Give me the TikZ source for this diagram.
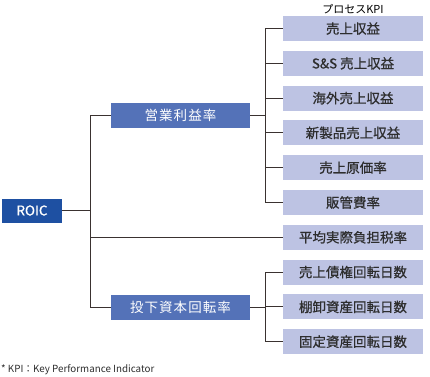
\documentclass[tikz,border=0pt]{standalone}
\usepackage{fontspec}
\setmainfont{Noto Sans CJK JP}
\definecolor{roicblue}{HTML}{1E50A2}
\definecolor{midblue}{HTML}{5472B8}
\definecolor{kpibg}{HTML}{BDC3E3}
\definecolor{linec}{HTML}{3A3230}
\definecolor{txt}{HTML}{2E2E2E}
\tikzset{
  boxfont/.style={font=\fontsize{13.5bp}{15bp}\selectfont\addfontfeature{FakeBold=0.6}},
  kpibox/.style={rectangle, fill=kpibg, minimum width=140bp, minimum height=25bp, inner sep=0pt, text=txt, boxfont},
  midbox/.style={rectangle, fill=midblue, minimum width=139bp, minimum height=25bp, inner sep=0pt, text=white, font=\fontsize{13.5bp}{15bp}\selectfont\addfontfeature{LetterSpace=8}},
  roicbox/.style={rectangle, fill=roicblue, minimum width=60bp, minimum height=24bp, inner sep=0pt, text=white, boxfont},
  conn/.style={draw=linec, line width=1bp},
}
\begin{document}
\begin{tikzpicture}[x=1bp, y=-1bp]
\useasboundingbox (0,0) rectangle (430,377);
\node[roicbox] (roic) at (32,210.5) {ROIC};
\node[midbox] (op) at (180.5,115) {営業利益率};
\node[midbox] (inv) at (180.5,307) {投下資本回転率};
\node[kpibox] (k1) at (353,28.5) {売上収益};
\node[kpibox] (k2) at (353,63.3) {S\&S 売上収益};
\node[kpibox] (k3) at (353,98.1) {海外売上収益};
\node[kpibox] (k4) at (353,132.9) {新製品売上収益};
\node[kpibox] (k5) at (353,167.7) {売上原価率};
\node[kpibox] (k6) at (353,202.5) {販管費率};
\node[kpibox] (tax) at (353,237.3) {平均実際負担税率};
\node[kpibox] (k7) at (353,272.1) {売上債権回転日数};
\node[kpibox] (k8) at (353,306.9) {棚卸資産回転日数};
\node[kpibox] (k9) at (353,341.7) {固定資産回転日数};
\node[font=\fontsize{11bp}{12bp}\selectfont, text=black] (head) at (353,9) {プロセスKPI};
\node[font=\fontsize{9.8bp}{11bp}\selectfont, text=txt, anchor=west, inner sep=0pt] (foot) at (1,370) {* KPI：Key Performance Indicator};
\coordinate (trunk) at (90,0);
\coordinate (br) at (265,0);
\draw[conn] (roic.east) -- (roic.east -| trunk);
\draw[conn] (op.west) -- (op.west -| trunk) |- (inv.west);
\draw[conn] (tax.west) -- (tax.west -| trunk);
\draw[conn] (op.east) -- (op.east -| br);
\draw[conn] (k1.west) -- (k1.west -| br) |- (k6.west);
\foreach \k in {k2,k3,k4,k5}{\draw[conn] (\k.west) -- (\k.west -| br);}
\draw[conn] (inv.east) -- (inv.east -| br);
\draw[conn] (k7.west) -- (k7.west -| br) |- (k9.west);
\draw[conn] (k8.west) -- (k8.west -| br);
\end{tikzpicture}
\end{document}
